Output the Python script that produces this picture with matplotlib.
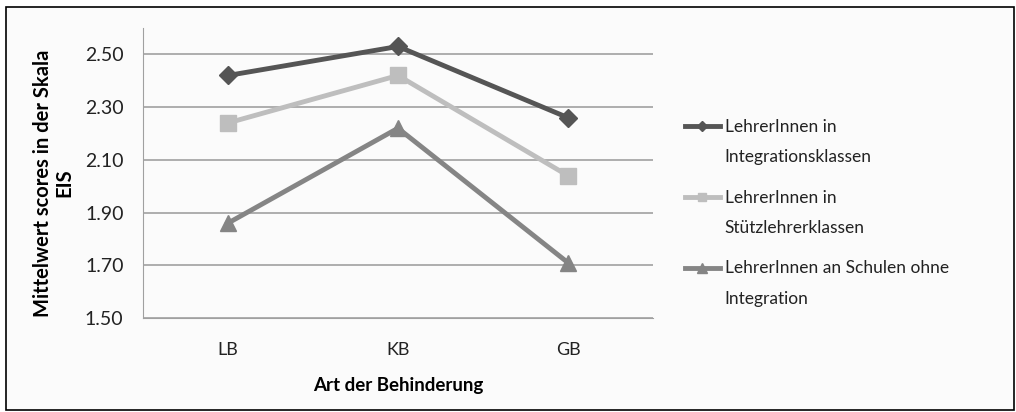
import numpy as np
import matplotlib.pyplot as plt
from matplotlib.patches import Rectangle

categories = ["LB", "KB", "GB"]
integration = [2.42, 2.53, 2.26]
stuetzlehrer = [2.24, 2.42, 2.04]
ohne_integration = [1.86, 2.22, 1.71]
labels = [
    "LehrerInnen in\nIntegrationsklassen",
    "LehrerInnen in\nStützlehrerklassen",
    "LehrerInnen an Schulen ohne\nIntegration",
]
yticks = [1.50, 1.70, 1.90, 2.10, 2.30, 2.50]

plt.rcParams["font.family"] = ["Lato", "DejaVu Sans"]

fig = plt.figure(figsize=(10.16, 4.12), dpi=100)
fig.patch.set_facecolor("white")
# outer frame, kept behind the axes
fig.add_artist(Rectangle((0.006, 0.004), 0.992, 0.978, transform=fig.transFigure,
                         fill=True, facecolor="#fbfbfb", edgecolor="black",
                         linewidth=1.2, zorder=-5))

ax = fig.add_axes([0.1407, 0.228, 0.502, 0.704])
ax.set_facecolor("none")
x = np.arange(len(categories))

series = [
    (integration, "#555555", "D", 9.5),
    (stuetzlehrer, "#bebebe", "s", 11),
    (ohne_integration, "#858585", "^", 12),
]
for (vals, col, mk, ms), lab in zip(series, labels):
    ax.plot(x, vals, color=col, marker=mk, markersize=ms, linewidth=3.5,
            label=lab)

ax.set_xlim(-0.5, 2.5)
ax.set_ylim(1.5, 2.6)
ax.set_yticks(yticks)
ax.set_yticklabels([f"{v:.2f}" for v in yticks], fontsize=14, color="#222222")
ax.set_xticks(x)
ax.set_xticklabels(categories, fontsize=13, color="#222222")
ax.tick_params(axis="y", length=0, pad=14)
ax.tick_params(axis="x", length=0, pad=17)
ax.yaxis.grid(True, color="#a0a0a0", linewidth=1.2)
ax.set_axisbelow(True)
for s in ["top", "right"]:
    ax.spines[s].set_visible(False)
ax.spines["left"].set_color("#a0a0a0")
ax.spines["bottom"].set_color("#a0a0a0")

ax.set_xlabel("Art der Behinderung", fontsize=13.5, fontweight="bold", va="center")
ax.xaxis.set_label_coords(0.5, -0.231)
ax.set_ylabel("Mittelwert scores in der Skala\nEIS", fontsize=14.5, fontweight="bold",
              linespacing=1.05, va="center")
ax.yaxis.set_label_coords(-0.175, 0.466)

leg = fig.legend(loc="upper left", bbox_to_anchor=(0.674, 0.711), frameon=False,
                 fontsize=12.5, handlelength=2.0, handleheight=1.2,
                 handletextpad=0.3, labelspacing=1.4, markerscale=0.55,
                 borderpad=0, borderaxespad=0)
for t in leg.get_texts():
    t.set_linespacing(2.1)
    t.set_color("#222222")
# put each handle level with the first line of its label
for col in leg._legend_handle_box.get_children():
    for row in col.get_children():
        row.align = "top"

fig.savefig("out.png", dpi=100)
